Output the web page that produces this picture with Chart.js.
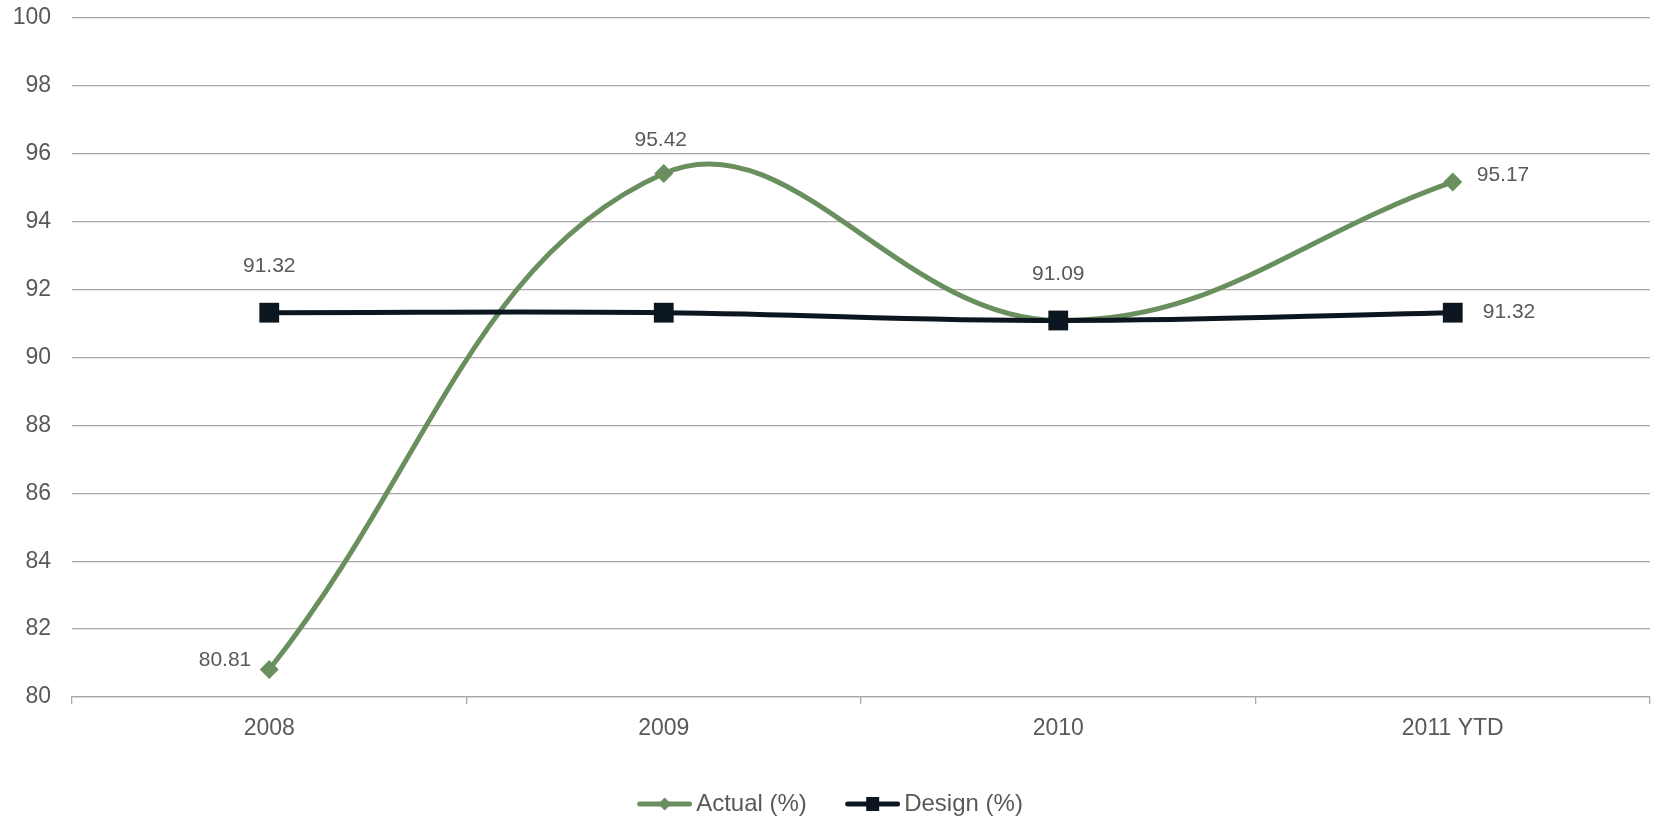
<!DOCTYPE html>
<html>
<head>
<meta charset="utf-8">
<script src="https://cdn.jsdelivr.net/npm/chart.js@4.4.0/dist/chart.umd.min.js"></script>
<style>
  body { margin: 0; background: #fff; }
  #wrap { width: 1655px; height: 817px; }
</style>
</head>
<body>
<div id="wrap"><canvas id="lineChart" width="1655" height="817"></canvas></div>
<script>
// data
const categories = ['2008', '2009', '2010', '2011 YTD'];
const actualValues = [80.81, 95.42, 91.09, 95.17];
const designValues = [91.32, 91.32, 91.09, 91.32];
const yTicks = [80, 82, 84, 86, 88, 90, 92, 94, 96, 98, 100];

const GREEN = '#6a8f5e';
const DARK = '#0c1620';
const TEXT = '#595959';
const GRID = '#a8a8a8';
const FONT = "'Liberation Sans', Arial, sans-serif";

// where each value label sits relative to its point (null = no label)
const labelPlacement = [
  [{ dx: -18, dy: -9, align: 'right' }, { dx: -3, dy: -33, align: 'center' }, null, { dx: 24, dy: -7, align: 'left' }],
  [{ dx: 0, dy: -46, align: 'center' }, null, { dx: 0, dy: -46, align: 'center' }, { dx: 30, dy: 0, align: 'left' }]
];

// legend icon: line with a marker in the middle
function legendIcon(color, marker) {
  const c = document.createElement('canvas');
  c.width = 63;
  c.height = 22;
  const ctx = c.getContext('2d');
  ctx.strokeStyle = color;
  ctx.lineWidth = 5;
  ctx.lineCap = 'round';
  ctx.beginPath();
  ctx.moveTo(10.5, 11);
  ctx.lineTo(60.5, 11);
  ctx.stroke();
  ctx.fillStyle = color;
  if (marker === 'diamond') {
    ctx.beginPath();
    ctx.moveTo(35.5, 4.5);
    ctx.lineTo(42, 11);
    ctx.lineTo(35.5, 17.5);
    ctx.lineTo(29, 11);
    ctx.closePath();
    ctx.fill();
  } else {
    ctx.fillRect(29, 4, 13, 14);
  }
  return c;
}
const legendIcons = [legendIcon(GREEN, 'diamond'), legendIcon(DARK, 'square')];

const valueLabels = {
  id: 'valueLabels',
  afterDatasetsDraw(chart) {
    const ctx = chart.ctx;
    ctx.save();
    ctx.font = '21px ' + FONT;
    ctx.fillStyle = TEXT;
    ctx.textBaseline = 'middle';
    chart.data.datasets.forEach((ds, di) => {
      const meta = chart.getDatasetMeta(di);
      meta.data.forEach((pt, i) => {
        const p = labelPlacement[di][i];
        if (!p) return;
        ctx.textAlign = p.align;
        ctx.fillText(ds.data[i].toFixed(2), pt.x + p.dx, pt.y + p.dy);
      });
    });
    ctx.restore();
  }
};

new Chart(document.getElementById('lineChart'), {
  type: 'line',
  data: {
    labels: categories,
    datasets: [
      {
        label: 'Actual (%)',
        data: actualValues,
        borderColor: GREEN,
        backgroundColor: GREEN,
        borderWidth: 5,
        tension: 0.4,
        pointStyle: 'rectRot',
        pointRadius: 9.5,
        pointBorderWidth: 0,
        order: 1
      },
      {
        label: 'Design (%)',
        data: designValues,
        borderColor: DARK,
        backgroundColor: DARK,
        borderWidth: 5,
        tension: 0.4,
        pointStyle: 'rect',
        pointRadius: 14,
        pointBorderWidth: 0,
        order: 0
      }
    ]
  },
  options: {
    responsive: false,
    animation: false,
    layout: { autoPadding: false, padding: { top: 0, right: 5, left: 10, bottom: -9 } },
    scales: {
      x: {
        offset: true,
        grid: { offset: true, drawOnChartArea: false, drawTicks: true, tickLength: 7, color: GRID, lineWidth: 1.3 },
        border: { color: GRID, width: 1.3 },
        ticks: { color: TEXT, font: { family: FONT, size: 23 }, padding: 11 },
        afterFit(s) {
          s.height = 90;
          s.paddingLeft = 0;
          s.paddingRight = 0;
        }
      },
      y: {
        min: yTicks[0],
        max: yTicks[yTicks.length - 1],
        afterBuildTicks(s) { s.ticks = yTicks.map(v => ({ value: v })); },
        grid: { drawTicks: false, color: GRID, lineWidth: 1.3 },
        border: { display: false },
        ticks: { color: TEXT, font: { family: FONT, size: 23 }, padding: 21 },
        afterFit(s) {
          s.width = 62;
          s.paddingTop = 18;
          s.paddingBottom = 0;
        }
      }
    },
    plugins: {
      tooltip: { enabled: false },
      legend: {
        position: 'bottom',
        labels: {
          usePointStyle: true,
          pointStyleWidth: 47,
          padding: 5,
          color: TEXT,
          font: { family: FONT, size: 24 },
          sort: (a, b) => a.datasetIndex - b.datasetIndex,
          generateLabels(chart) {
            const items = Chart.defaults.plugins.legend.labels.generateLabels(chart);
            items.forEach(it => {
              it.pointStyle = legendIcons[it.datasetIndex];
              it.fontColor = TEXT;
              // extra room after the first entry, like the original legend spacing
              if (it.datasetIndex === 0) it.text = it.text + '\u00a0\u00a0\u00a0\u00a0\u00a0';
            });
            return items;
          }
        }
      }
    }
  },
  plugins: [valueLabels]
});
</script>
</body>
</html>
